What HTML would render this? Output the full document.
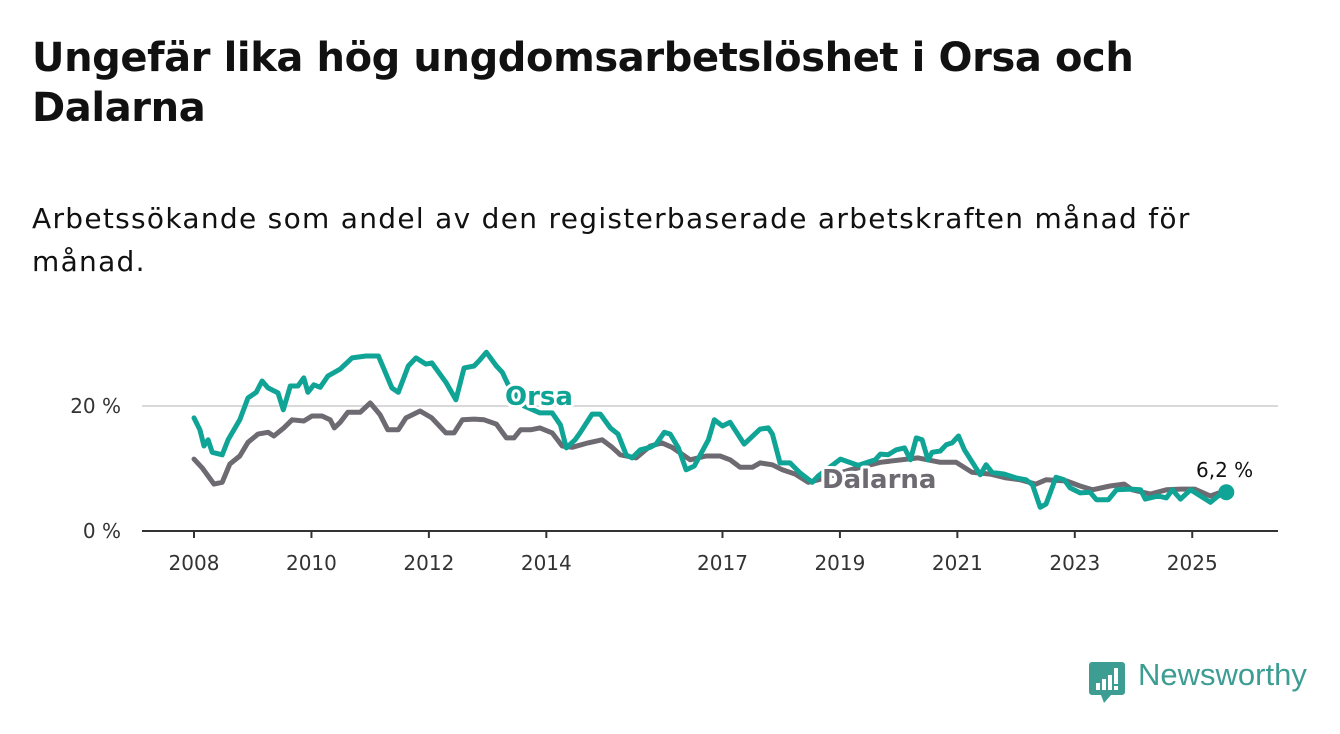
<!DOCTYPE html>
<html><head><meta charset="utf-8">
<style>
body{margin:0;background:#fff;}
#wrap{position:relative;width:1340px;height:734px;overflow:hidden;font-family:"DejaVu Sans","Liberation Sans",sans-serif;color:#111;}
h1{position:absolute;left:32px;top:33px;margin:0;font-size:40px;line-height:50px;font-weight:700;width:1250px;white-space:nowrap;letter-spacing:-0.4px;}
.sub{position:absolute;left:32px;top:197px;margin:0;font-size:28px;line-height:43px;font-weight:400;width:1250px;white-space:nowrap;letter-spacing:1.3px;}
svg{position:absolute;left:0;top:0;}
svg text{font-family:"DejaVu Sans","Liberation Sans",sans-serif;}
</style></head>
<body>
<div id="wrap">
<h1>Ungefär lika hög ungdomsarbetslöshet i Orsa och<br>Dalarna</h1>
<p class="sub">Arbetssökande som andel av den registerbaserade arbetskraften månad för<br>månad.</p>
<svg id="chart" width="1340" height="734"></svg>
<div style="position:absolute;left:1089px;top:662px;">
<svg width="36" height="42" viewBox="0 0 36 42" style="position:absolute;left:0;top:0">
<path d="M3 0H33a3 3 0 0 1 3 3V30a3 3 0 0 1-3 3H22l-7 8-3-8H3a3 3 0 0 1-3-3V3a3 3 0 0 1 3-3z" fill="#3d9d93"/>
<rect x="7" y="21" width="4" height="7" fill="#fff"/><rect x="13" y="17" width="4" height="11" fill="#fff"/><rect x="19" y="13" width="4" height="15" fill="#fff"/><rect x="25" y="6" width="4" height="16" fill="#fff"/><rect x="25" y="24" width="4" height="4" fill="#fff"/>
</svg>
<span style="position:absolute;left:49px;top:-5px;font-family:'Liberation Sans',sans-serif;font-size:31px;color:#3d9d93;white-space:nowrap;">Newsworthy</span>
</div>
</div>
<script>
const orsaDates=[2008.00,2008.10,2008.17,2008.24,2008.31,2008.48,2008.58,2008.78,2008.92,2009.06,2009.16,2009.26,2009.43,2009.52,2009.64,2009.77,2009.87,2009.94,2010.04,2010.15,2010.28,2010.49,2010.69,2010.93,2011.14,2011.37,2011.48,2011.65,2011.78,2011.95,2012.05,2012.29,2012.46,2012.60,2012.77,2012.87,2012.98,2013.15,2013.25,2013.35,2013.62,2013.89,2014.10,2014.24,2014.34,2014.49,2014.58,2014.78,2014.92,2015.09,2015.22,2015.36,2015.46,2015.60,2015.77,2015.87,2016.01,2016.11,2016.25,2016.38,2016.52,2016.76,2016.86,2017.00,2017.13,2017.37,2017.64,2017.78,2017.85,2017.98,2018.15,2018.32,2018.53,2018.63,2019.01,2019.31,2019.60,2019.69,2019.82,2019.96,2020.10,2020.20,2020.30,2020.40,2020.50,2020.57,2020.71,2020.81,2020.91,2021.02,2021.12,2021.39,2021.49,2021.59,2021.80,2022.00,2022.17,2022.28,2022.41,2022.51,2022.68,2022.82,2022.92,2023.09,2023.26,2023.37,2023.57,2023.71,2023.95,2024.12,2024.20,2024.42,2024.56,2024.66,2024.80,2024.97,2025.14,2025.31,2025.44,2025.58];
const orsaValues=[18.1,16.2,13.6,14.6,12.6,12.2,14.6,17.8,21.3,22.2,24,22.9,22.1,19.4,23.2,23.2,24.5,22.2,23.4,23,24.8,25.9,27.7,28,28,22.9,22.2,26.4,27.7,26.7,26.9,23.8,21,26.1,26.4,27.4,28.6,26.4,25.4,23.4,20,18.9,18.9,17,13.3,14.6,15.8,18.7,18.7,16.5,15.5,12.2,11.7,13,13.4,13.9,15.8,15.5,13.3,9.8,10.4,14.6,17.8,16.8,17.4,13.9,16.3,16.5,15.5,10.9,10.9,9.3,7.8,8.8,11.5,10.5,11.4,12.3,12.2,13,13.3,11.4,14.9,14.6,11.4,12.6,12.8,13.8,14.1,15.2,13,9,10.6,9.4,9.1,8.5,8.2,7.4,3.8,4.3,8.6,8.2,6.9,6.1,6.2,5,5,6.6,6.7,6.6,5.1,5.6,5.3,6.6,5.1,6.6,5.6,4.6,5.6,6.2];
const dalDates=[2008.00,2008.14,2008.24,2008.34,2008.48,2008.61,2008.78,2008.92,2009.09,2009.26,2009.36,2009.53,2009.67,2009.87,2010.01,2010.18,2010.32,2010.39,2010.49,2010.62,2010.83,2011.00,2011.17,2011.30,2011.48,2011.61,2011.85,2012.05,2012.29,2012.43,2012.57,2012.77,2012.94,2013.15,2013.32,2013.45,2013.56,2013.73,2013.89,2014.10,2014.27,2014.44,2014.71,2014.95,2015.12,2015.26,2015.53,2015.77,2015.97,2016.14,2016.45,2016.72,2016.96,2017.13,2017.30,2017.51,2017.64,2017.85,2018.02,2018.24,2018.46,2018.63,2019.18,2019.69,2020.33,2020.71,2020.98,2021.25,2021.56,2021.83,2022.07,2022.34,2022.51,2022.86,2023.09,2023.30,2023.60,2023.84,2023.98,2024.29,2024.56,2024.80,2025.04,2025.31,2025.48,2025.58];
const dalValues=[11.5,10.1,8.8,7.5,7.8,10.7,12,14.2,15.5,15.8,15.2,16.5,17.8,17.6,18.4,18.4,17.8,16.5,17.4,19,19,20.5,18.6,16.2,16.2,18.1,19.2,18.1,15.7,15.7,17.8,17.9,17.8,17.1,14.9,14.9,16.2,16.2,16.5,15.7,13.6,13.4,14.1,14.6,13.4,12.2,11.7,13.6,14.1,13.4,11.4,12,12,11.4,10.2,10.2,10.9,10.6,9.8,9.1,7.8,8.2,9.8,11,11.7,11,11,9.4,9.1,8.5,8.2,7.5,8.2,8,7.2,6.6,7.2,7.5,6.6,5.9,6.6,6.7,6.7,5.6,6.2,6.0];
const yTicks=[0,20];
const yTickLabels=["0 %","20 %"];
const xTicks=[2008,2010,2012,2014,2017,2019,2021,2023,2025];

const NS='http://www.w3.org/2000/svg';
const svg=document.getElementById('chart');
const X=d=>194+(d-2008)*58.72;
const Y=v=>531-v*6.25;
function mk(tag,attrs,parent){const e=document.createElementNS(NS,tag);for(const k in attrs)e.setAttribute(k,attrs[k]);(parent||svg).appendChild(e);return e;}

yTicks.forEach((t,i)=>{
  if(t>0){const g=mk('line',{x1:142,x2:1278,y1:Y(t),y2:Y(t),stroke:'#d9d9d9','stroke-width':2});
  
  }
  const l=mk('text',{x:121,y:Y(t)+7,'text-anchor':'end','font-size':20,fill:'#333'});
  l.textContent=yTickLabels[i];
  
  
});
const ax=mk('line',{x1:142,x2:1278,y1:531,y2:531,stroke:'#333','stroke-width':2});


xTicks.forEach(t=>{
  const tk=mk('line',{x1:X(t),x2:X(t),y1:531,y2:538,stroke:'#333','stroke-width':2});
  
  
  const l=mk('text',{x:X(t),y:570,'text-anchor':'middle','font-size':20,fill:'#333'});
  l.textContent=t;
  
  
});
function line(d,v,color,name){
  const p=mk('path',{d:d.map((x,i)=>(i?'L':'M')+X(x).toFixed(1)+','+Y(v[i]).toFixed(1)).join(''),fill:'none',stroke:color,'stroke-width':5,'stroke-linejoin':'round','stroke-linecap':'round'});
  
  
}
line(dalDates,dalValues,'#6d6a71','dalarna-line');
line(orsaDates,orsaValues,'#0fa495','orsa-line');
function label(x,y,txt,color,name,size,weight){
  const t=mk('text',{x:x,y:y,'font-size':size,'font-weight':weight,fill:color,stroke:'#fff','stroke-width':6,'paint-order':'stroke','stroke-linejoin':'round'});
  t.textContent=txt;
  
  
}
label(505,405,'Orsa','#0fa495','orsa-label',26,700);
label(822,488,'Dalarna','#6d6a71','dalarna-label',26,700);
const last=orsaDates.length-1;
const dot=mk('circle',{cx:X(orsaDates[last]),cy:Y(orsaValues[last]),r:8,fill:'#0fa495'});


label(1196,477,'6,2 %','#111','last-value-label',20,400);
</script>
</body></html>
